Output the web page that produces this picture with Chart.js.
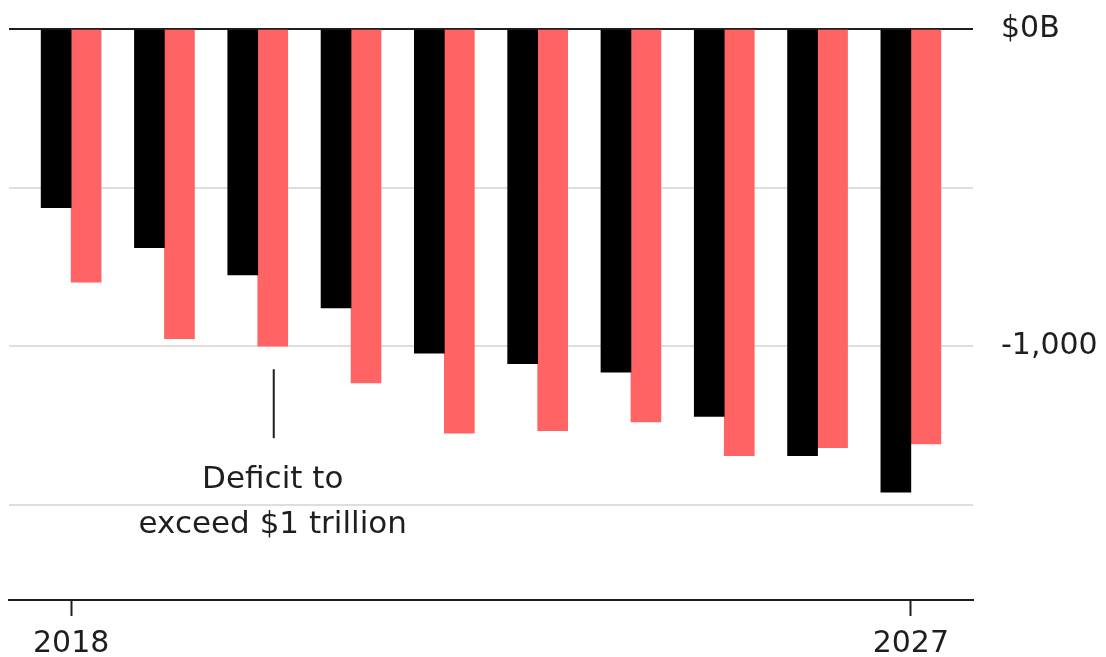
<!DOCTYPE html>
<html lang="en">

<head>
    <meta charset="UTF-8">
    <title>Deficit</title>
    <script src="https://cdn.jsdelivr.net/npm/chart.js@4.4.1/dist/chart.umd.min.js"></script>
    <style>
        body {
            margin: 0;
            background: #fff;
        }

        .wrap {
            width: 1106px;
            height: 657px;
        }
    </style>
</head>

<body>
    <div class="wrap">
        <canvas id="myChart"></canvas>
    </div>

    <script>
        // values, $ billions
        const years = [2018, 2019, 2020, 2021, 2022, 2023, 2024, 2025, 2026, 2027];
        const blackValues = [-563, -689, -775, -879, -1022, -1055, -1082, -1221, -1345, -1460];
        const redValues = [-798, -976, -1000, -1116, -1274, -1266, -1239, -1345, -1320, -1308];
        const yTicks = [0, -500, -1000, -1500];
        const yLabels = { '0': '$0B', '-1000': '-1,000' };
        const xLabels = [2018, 2027];
        const noteLines = ['Deficit to', 'exceed $1 trillion'];

        const FONT = 'DejaVu Sans';
        const INK = '#1e1e1e';

        // little callout under the 2020 red bar
        const notePlugin = {
            id: 'note',
            afterDraw(chart) {
                const bar = chart.getDatasetMeta(1).data[2];
                const ctx = chart.ctx;
                const x = bar.x + 1;
                const y0 = bar.y;
                ctx.save();
                ctx.strokeStyle = INK;
                ctx.lineWidth = 2;
                ctx.beginPath();
                ctx.moveTo(x, y0 + 23);
                ctx.lineTo(x, y0 + 92);
                ctx.stroke();
                ctx.fillStyle = INK;
                ctx.font = '31px "' + FONT + '"';
                ctx.textAlign = 'center';
                ctx.textBaseline = 'alphabetic';
                ctx.fillText(noteLines[0], x - 1, y0 + 142);
                ctx.fillText(noteLines[1], x - 1, y0 + 187);
                ctx.restore();
            }
        };

        new Chart(document.getElementById('myChart'), {
            type: 'bar',
            data: {
                datasets: [{
                    data: years.map((y, i) => ({ x: y, y: blackValues[i] })),
                    backgroundColor: '#000000',
                    barThickness: 30
                }, {
                    data: years.map((y, i) => ({ x: y, y: redValues[i] })),
                    backgroundColor: '#ff6363',
                    barThickness: 30
                }]
            },
            options: {
                responsive: true,
                maintainAspectRatio: false,
                animation: false,
                layout: {
                    padding: { top: 29, left: 9, right: 0, bottom: 0 }
                },
                plugins: {
                    legend: { display: false },
                    tooltip: { enabled: false }
                },
                scales: {
                    x: {
                        type: 'linear',
                        min: 2017.334,
                        max: 2027.666,
                        offset: false,
                        afterBuildTicks(axis) {
                            axis.ticks = xLabels.map(v => ({ value: v }));
                        },
                        afterFit(axis) {
                            axis.height = 57;
                        },
                        grid: {
                            offset: false,
                            drawOnChartArea: false,
                            drawTicks: true,
                            tickLength: 16,
                            tickWidth: 2,
                            tickColor: INK
                        },
                        border: { display: true, color: INK, width: 2 },
                        ticks: {
                            padding: 10,
                            maxRotation: 0,
                            autoSkip: false,
                            color: INK,
                            font: { family: FONT, size: 30 },
                            callback: v => String(v)
                        }
                    },
                    y: {
                        position: 'right',
                        min: -1800,
                        max: 0,
                        afterBuildTicks(axis) {
                            axis.ticks = yTicks.map(v => ({ value: v }));
                        },
                        afterFit(axis) {
                            axis.width = 133;
                            // let the layout padding alone decide where the top sits
                            axis.paddingTop = 0;
                        },
                        grid: {
                            drawTicks: false,
                            color: c => c.tick && c.tick.value === 0 ? INK : '#dedede',
                            lineWidth: 2
                        },
                        border: { display: false },
                        ticks: {
                            padding: 28,
                            color: INK,
                            font: { family: FONT, size: 30 },
                            callback: v => yLabels[String(v)] || ''
                        }
                    }
                }
            },
            plugins: [notePlugin]
        });
    </script>
</body>

</html>
